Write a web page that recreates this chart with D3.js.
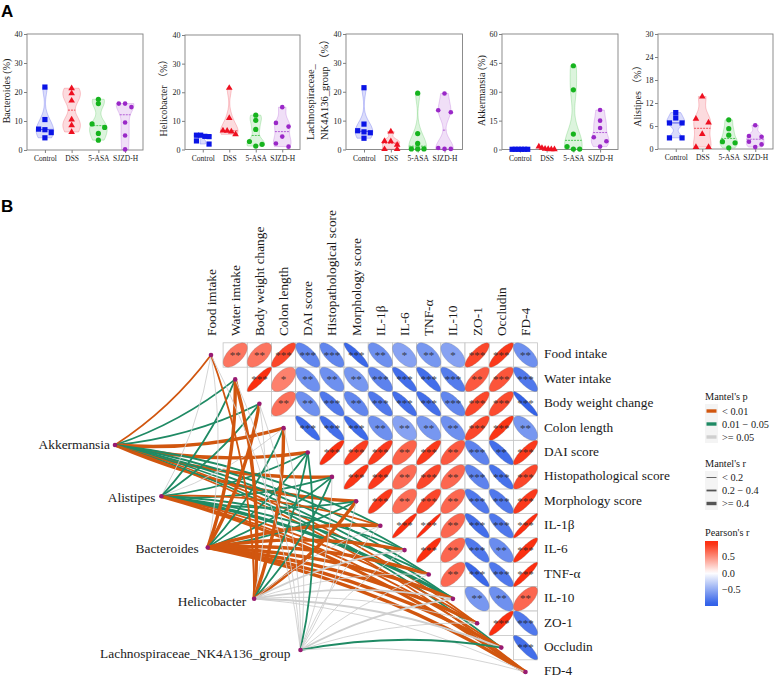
<!DOCTYPE html>
<html><head><meta charset="utf-8">
<script src="https://cdn.jsdelivr.net/npm/d3@7/dist/d3.min.js"></script>
<style>html,body{margin:0;padding:0;background:#fff}svg{display:block}text{font-family:"Liberation Serif","Noto Sans CJK SC",serif;fill:#1a1a1a}</style>
</head><body><svg id="c" width="774" height="677" viewBox="0 0 774 677"></svg>
<script>
// ---------- Panel A data ----------
const groups = ["Control","DSS","5-ASA","SJZD-H"];
const bacteroides = [[21.7,10.5,7.2,7.0,6.0,4.2],[21.3,19.5,17,10.5,8.5,6.2],[17.5,16,9,7.8,5.7,3.4],[16,16,14.8,9.5,5,0.2]];
const helicobacter = [[5,5,4.6,4.5,3,1.9],[21.5,11,6.6,6.5,6.3,5.3],[12,10.2,7,2.8,1.8,1.2],[14.8,9.3,8,4.5,2.1,1.0]];
const lachno = [[21.4,8.8,6.5,6.1,5.8,3.9],[6.2,2.9,2.8,1.6,0.1,0.1],[19.5,5.5,2.1,0.2,0.2,0.2],[19.4,13.6,12.9,0.5,0.2,0.2]];
const akkermansia = [[0.1,0.1,0.1,0.1,0.1,0.1],[1.5,0.8,0.3,0.2,0.1,0.1],[43.5,31,8,1.5,0.2,0.2],[20.5,15,11.2,6.4,4.3,1.5]];
const alistipes = [[9.5,8.1,6.8,6.8,2.9,2.9],[13.7,7.9,6.9,3.9,0.5,0.5],[7.6,5.3,3.6,1.9,1.6,0.3],[6.2,3.4,3.2,1.9,1.2,0.5]];
const ticksA = [0,10,20,30,40], ticksAkk = [0,15,30,45,60], ticksAli = [0,6,12,18,24,30];

// ---------- Panel B data ----------
const envNames = ["Food imtake","Water imtake","Body weight change","Colon length","DAI score","Histopathological score","Morphology score","IL-1β","IL-6","TNF-α","IL-10","ZO-1","Occludin","FD-4"];
const rightNames = ["Food intake","Water intake","Body weight change","Colon length","DAI score","Histopathological score","Morphology score","IL-1β","IL-6","TNF-α","IL-10","ZO-1","Occludin","FD-4"];
const pearson = [
 [.6,.6,.8,-.72,-.72,-.9,-.66,-.55,-.62,-.55,.8,.86,-.66],
 [.9,.55,-.66,-.66,-.62,-.74,-.86,-.86,-.78,.72,.74,-.8],
 [.62,-.66,-.8,-.72,-.8,-.86,-.86,-.72,.8,.78,-.93],
 [-.88,-.86,-.88,-.66,-.55,-.62,-.66,.8,.88,-.62],
 [.9,.84,.86,.68,.86,.72,-.74,-.86,.86],
 [.88,.86,.64,.8,.66,-.74,-.84,.8],
 [.86,.64,.8,.66,-.8,-.8,.86],
 [.94,.97,.66,-.86,-.8,.95],
 [.9,.66,-.8,-.68,.9],
 [.66,-.9,-.8,.93],
 [-.62,-.66,.66],
 [.9,-.8],
 [-.86]];
const stars = [
 [2,2,3,3,3,3,2,1,2,1,3,3,2],
 [3,1,2,2,2,3,3,3,3,2,3,3],
 [2,2,3,2,3,3,3,3,3,3,3],
 [3,3,3,2,2,2,2,3,3,2],
 [3,3,3,2,3,2,3,2,3],
 [3,3,2,3,2,3,3,3],
 [3,2,3,2,3,3,3],
 [3,3,2,3,3,3],
 [3,2,3,2,3],
 [2,3,3,3],
 [2,2,2],
 [3,3],
 [3]];
const species = ["Akkermansia","Alistipes","Bacteroides","Helicobacter","Lachnospiraceae_NK4A136_group"];
// Mantel p class per env: 0 <0.01, 1 0.01-0.05, 2 >=0.05
const mantelP = [
 [0,1,1,0,0,0,0,1,1,1,1,0,1,0],
 [2,1,1,2,1,1,1,0,1,1,1,0,0,0],
 [2,0,0,1,1,1,1,0,0,0,0,0,0,0],
 [0,0,2,0,1,1,0,2,2,2,2,2,2,2],
 [2,2,2,2,1,2,2,2,2,2,2,2,1,2]];
// Mantel r class per env: 0 <0.2, 1 0.2-0.4, 2 >=0.4
const mantelR = [
 [1,1,1,2,2,2,2,1,1,1,1,1,1,1],
 [0,1,1,0,1,1,1,1,1,1,2,1,1,2],
 [0,2,2,1,1,1,1,2,2,2,2,2,2,2],
 [1,2,0,2,1,1,2,0,1,0,1,0,1,0],
 [0,0,0,0,1,0,0,0,0,0,1,0,1,0]];
const pLabels = ["< 0.01","0.01 − 0.05",">= 0.05"], rLabels = ["< 0.2","0.2 − 0.4",">= 0.4"];
const barTicks = [0.5,0,-0.5];

// ---------- Styles ----------
const colA = ["#0a14e6","#ee1020","#16b41e","#9a28c8"];
const pCol = ["#d1560f","#1f8a64","#cfcfcf"], rW = [.9,1.8,3.4];
const svg = d3.select("#c");
svg.append("text").attr("x",1).attr("y",17).style("font-family","Liberation Sans").style("font-weight","bold").style("font-size","17px").style("fill","#000").text("A");
svg.append("text").attr("x",1).attr("y",212).style("font-family","Liberation Sans").style("font-weight","bold").style("font-size","17px").style("fill","#000").text("B");

// ---------- Panel A ----------
const panels = [
 {d:bacteroides,t:ticksA,x:[27,143],y:[150,34],lab:[{s:"Bacteroides (%)",x:6,c:91}]},
 {d:helicobacter,t:ticksA,x:[185,300],y:[149.5,35],lab:[{s:"Helicobacter （%）",x:163,c:95.5}]},
 {d:lachno,t:ticksA,x:[346,462.5],y:[149.5,34],lab:[{s:"Lachnospiraceae_",x:310,b:140},{s:"NK4A136_group （%）",x:324,b:140}]},
 {d:akkermansia,t:ticksAkk,x:[502,618],y:[149.5,34],lab:[{s:"Akkermansia (%)",x:481,c:90.5}]},
 {d:alistipes,t:ticksAli,x:[658,773],y:[149,34],lab:[{s:"Alistipes （%）",x:637,c:93.5}]}];
const tri = d3.symbol().type(d3.symbolTriangle).size(19)();
panels.forEach(p=>{
  const g = svg.append("g");
  const x = d3.scalePoint().domain(groups).range(p.x).padding(.67);
  const y = d3.scaleLinear().domain([0,d3.max(p.t)]).range(p.y);
  g.append("rect").attr("x",p.x[0]).attr("y",p.y[1]).attr("width",p.x[1]-p.x[0]).attr("height",p.y[0]-p.y[1]).attr("fill","none").attr("stroke","#808080").attr("stroke-width",.9);
  const ay = g.append("g").attr("transform",`translate(${p.x[0]},0)`).call(d3.axisLeft(y).tickValues(p.t).tickSize(3).tickPadding(1.5));
  const ax = g.append("g").attr("transform",`translate(0,${p.y[0]})`).call(d3.axisBottom(x).tickSize(3).tickPadding(3));
  ay.select(".domain").remove(); ax.select(".domain").remove();
  ay.selectAll("line").attr("stroke","#808080"); ax.selectAll("line").attr("stroke","#808080");
  ay.selectAll("text").style("font-size","8px").style("font-family",null);
  ax.selectAll("text").style("font-size","7.5px").style("font-family",null);
  p.lab.forEach(l=>{
    g.append("text").attr("transform",`translate(${l.x+3.5},${l.b||l.c}) rotate(-90)`).attr("text-anchor",l.b?"start":"middle").style("font-size",l.b?"10.5px":"10px").text(l.s);
  });
  p.d.forEach((vals,gi)=>{
    const cx = x(groups[gi]), col = colA[gi];
    const lo = d3.min(vals), hi = d3.max(vals), range = hi-lo;
    if(range>1.6){
      const bw = range*.16;
      const yy = d3.range(0,41).map(i=>lo+range*i/40);
      const dens = yy.map(v=>d3.sum(vals,u=>Math.exp(-.5*((v-u)/bw)**2)));
      const hw = d3.scaleLinear().domain([0,d3.max(dens)]).range([0,8.8]);
      const pts = yy.map((v,i)=>[v,hw(dens[i])]);
      const area = d3.area().y(d=>y(d[0])).x0(d=>cx-d[1]).x1(d=>cx+d[1]).curve(d3.curveLinear);
      g.append("path").attr("d",area(pts)).attr("fill",col).attr("fill-opacity",.15).attr("stroke",col).attr("stroke-opacity",.35).attr("stroke-width",.6);
      const md = d3.median(vals), mw = hw(d3.sum(vals,u=>Math.exp(-.5*((md-u)/bw)**2)));
      g.append("line").attr("x1",cx-mw).attr("x2",cx+mw).attr("y1",y(md)).attr("y2",y(md)).attr("stroke",col).attr("stroke-width",.7).attr("stroke-dasharray",gi==0?null:"2 1");
    }
    // swarm: values closer than a marker height share a row
    const sorted = vals.slice().sort((a,b)=>b-a), rows=[];
    sorted.forEach(v=>{const r=rows[rows.length-1]; if(r&&y(v)-y(r[0])<4.2) r.push(v); else rows.push([v]);});
    rows.forEach(r=>{
      const n=r.length, span = n==1?0:(n<=4?6.3:7.8);
      r.forEach((v,i)=>{
        const px = cx + (n==1?0:-span+2*span*i/(n-1)), py = y(v);
        if(gi==0) g.append("rect").attr("x",px-2.6).attr("y",py-2.6).attr("width",5.2).attr("height",5.2).attr("fill",col);
        else if(gi==1) g.append("path").attr("d",tri).attr("transform",`translate(${px},${py})`).attr("fill",col);
        else g.append("circle").attr("cx",px).attr("cy",py).attr("r",gi==2?2.6:2.3).attr("fill",col);
      });
    });
  });
});

// ---------- Panel B ----------
const ex = d3.scalePoint().domain(envNames).range([211,525.5]);
const ey = d3.scalePoint().domain(envNames).range([355,672]);
const cw = ex.step(), ch = ey.step();
const rColor = d3.scaleLinear().domain([-1,-.95,0,.9,1]).range(["#2f5fe8","#2f5fe8","#ffffff","#fb3010","#ff2a10"]);
const hm = svg.append("g");
pearson.forEach((row,i)=>row.forEach((r,k)=>{
  const j=i+1+k, cx=ex(envNames[j]), cy=ey(envNames[i]);
  hm.append("rect").attr("x",cx-cw/2).attr("y",cy-ch/2).attr("width",cw).attr("height",ch).attr("fill","#fff").attr("stroke","#c4c4c4").attr("stroke-width",.8);
}));
pearson.forEach((row,i)=>row.forEach((r,k)=>{
  const j=i+1+k, cx=ex(envNames[j]), cy=ey(envNames[i]);
  const d=Math.acos(r), ang=d3.range(0,73).map(a=>a/72*2*Math.PI);
  const line=d3.line().x(t=>cx+cw/2*Math.cos(t+d/2)).y(t=>cy-ch/2*Math.cos(t-d/2)).curve(d3.curveLinearClosed);
  hm.append("path").attr("d",line(ang)).attr("fill",rColor(r)).attr("stroke","#777").attr("stroke-opacity",.5).attr("stroke-width",.5);
  hm.append("text").attr("x",cx).attr("y",cy+3.6).attr("text-anchor","middle").style("font-size","11px").style("fill","#222").style("opacity",.8).text("*".repeat(stars[i][k]));
}));
envNames.forEach(n=>{
  svg.append("text").attr("transform",`translate(${ex(n)+4.5},336) rotate(-90)`).style("font-size","13.3px").text(n);
});
rightNames.forEach((n,i)=>{
  svg.append("text").attr("x",544).attr("y",ey(envNames[i])+3.4).style("font-size","13.3px").text(n);
});

// Links
const specNode = d3.scalePoint().domain(species).range([0,1]);
const sx = d3.scaleLinear().domain([0,1]).range([115,300.5]), sy = d3.scaleLinear().domain([0,1]).range([445,650]);
const curv = .045;
const links = svg.append("g").attr("fill","none");
species.forEach((s,si)=>{
  const x0=sx(specNode(s)), y0=sy(specNode(s));
  envNames.forEach((e,ei)=>{
    const x1=ex(e), y1=ey(e), dx=x1-x0, dy=y1-y0, sign = ei<=6?1:-1;
    const cpx=(x0+x1)/2 + sign*(-dy)*curv*2, cpy=(y0+y1)/2 + sign*dx*curv*2;
    const path=d3.path(); path.moveTo(x0,y0); path.quadraticCurveTo(cpx,cpy,x1,y1);
    links.append("path").attr("d",path.toString()).attr("stroke",pCol[mantelP[si][ei]]).attr("stroke-width",rW[mantelR[si][ei]]);
  });
});
const nodeFill="#981a72";
envNames.forEach(e=>svg.append("circle").attr("cx",ex(e)).attr("cy",ey(e)).attr("r",2.3).attr("fill",nodeFill));
const labGap=[5,6,9,8,10], labDy=[4,6,5,7,8];
species.forEach((s,i)=>{
  const x=sx(specNode(s)), y=sy(specNode(s));
  svg.append("circle").attr("cx",x).attr("cy",y).attr("r",2.3).attr("fill",nodeFill);
  svg.append("text").attr("x",x-labGap[i]).attr("y",y+labDy[i]).attr("text-anchor","end").style("font-size","13.4px").text(s);
});

// Legends
const lg = svg.append("g"), lx=705;
const title=(t,y)=>lg.append("text").attr("x",lx).attr("y",y).style("font-size","10.3px").text(t);
title("Mantel's p",400);
lg.append("rect").attr("x",lx).attr("y",404).attr("width",13).attr("height",39).attr("fill","#f4f4f4");
pLabels.forEach((t,i)=>{const y=411+i*13;
  lg.append("line").attr("x1",lx+1.5).attr("x2",lx+11.5).attr("y1",y).attr("y2",y).attr("stroke",pCol[i]).attr("stroke-width",3.4);
  lg.append("text").attr("x",722).attr("y",y+3.6).style("font-size","10.3px").text(t);});
title("Mantel's r",467);
lg.append("rect").attr("x",lx).attr("y",471).attr("width",13).attr("height",39).attr("fill","#f4f4f4");
rLabels.forEach((t,i)=>{const y=477.5+i*13;
  lg.append("line").attr("x1",lx+1.5).attr("x2",lx+11.5).attr("y1",y).attr("y2",y).attr("stroke","#555").attr("stroke-width",rW[i]);
  lg.append("text").attr("x",722).attr("y",y+3.6).style("font-size","10.3px").text(t);});
title("Pearson's r",536);
const barY=d3.scaleLinear().domain([-1,.97]).range([606,541]);
const grad=svg.append("defs").append("linearGradient").attr("id","bar").attr("x1",0).attr("x2",0).attr("y1",1).attr("y2",0);
d3.range(0,21).forEach(i=>{const v=-1+1.97*i/20;grad.append("stop").attr("offset",i/20).attr("stop-color",rColor(v));});
lg.append("rect").attr("x",lx).attr("y",541).attr("width",13).attr("height",65).attr("fill","url(#bar)");
barTicks.forEach(t=>lg.append("text").attr("x",722).attr("y",barY(t)+3.6).style("font-size","10.3px").text(t<0?"−"+Math.abs(t).toFixed(1):t.toFixed(1)));
</script></body></html>
